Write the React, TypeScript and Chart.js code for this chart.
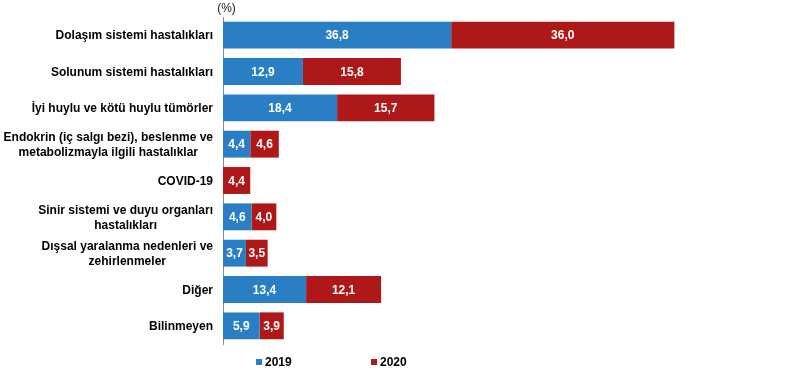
import React, { useEffect, useRef } from "react";
import { Chart, registerables } from "chart.js";

Chart.register(...registerables);

const categories: string[][] = [
  ["Dolaşım sistemi hastalıkları"],
  ["Solunum sistemi hastalıkları"],
  ["İyi huylu ve kötü huylu tümörler"],
  ["Endokrin (iç salgı bezi), beslenme ve", "metabolizmayla ilgili hastalıklar"],
  ["COVID-19"],
  ["Sinir sistemi ve duyu organları", "hastalıkları"],
  ["Dışsal yaralanma nedenleri ve", "zehirlenmeler"],
  ["Diğer"],
  ["Bilinmeyen"],
];

const values2019: (number | null)[] = [36.8, 12.9, 18.4, 4.4, null, 4.6, 3.7, 13.4, 5.9];
const values2020: (number | null)[] = [36.0, 15.8, 15.7, 4.6, 4.4, 4.0, 3.5, 12.1, 3.9];

const seriesLabels = ["2019", "2020"];
const unitLabel = "(%)";

const BLUE = "#2A7FC4";
const RED = "#AE1818";
const FONT = "Arial, 'Liberation Sans', sans-serif";

const fmt = (v: number) => v.toFixed(1).replace(".", ",");

const customPlugin = {
  id: "custom",
  afterDraw(chart: any) {
    const ctx = chart.ctx;
    const area = chart.chartArea;
    ctx.save();
    // value labels
    ctx.font = `bold 12px ${FONT}`;
    ctx.fillStyle = "#ffffff";
    ctx.textAlign = "center";
    ctx.textBaseline = "middle";
    chart.data.datasets.forEach((ds: any, di: number) => {
      const meta = chart.getDatasetMeta(di);
      meta.data.forEach((el: any, i: number) => {
        const v = ds.data[i];
        if (v == null) return;
        const cx = (el.x + el.base) / 2;
        ctx.fillText(fmt(v), cx, el.y + 1);
      });
    });
    // y category labels (centered lines, right-aligned block)
    const yScale = chart.scales.y;
    ctx.fillStyle = "#000000";
    ctx.font = `bold 12px ${FONT}`;
    categories.forEach((lines, i) => {
      const y = yScale.getPixelForTick(i);
      const maxW = Math.max(...lines.map((l) => ctx.measureText(l).width));
      const right = area.left - 10;
      const cx = right - maxW / 2;
      const lh = 15;
      const y0 = y + 1 - ((lines.length - 1) * lh) / 2;
      lines.forEach((l, k) => {
        ctx.fillText(l, cx, y0 + k * lh);
      });
    });
    // unit label
    ctx.font = `12px ${FONT}`;
    ctx.fillStyle = "#222222";
    ctx.textBaseline = "top";
    ctx.fillText(unitLabel, area.left + 3.5, 3);
    // legend
    ctx.textBaseline = "middle";
    ctx.font = `bold 12px ${FONT}`;
    ctx.textAlign = "left";
    const legendY = 362;
    const legendX = [256, 371];
    chart.data.datasets.forEach((ds: any, di: number) => {
      const x = legendX[di];
      ctx.fillStyle = ds.backgroundColor;
      ctx.fillRect(x, legendY - 3, 6, 6);
      ctx.fillStyle = "#000000";
      ctx.fillText(ds.label, x + 9, legendY + 1);
    });
    ctx.restore();
  },
};

export default function App() {
  const ref = useRef<HTMLCanvasElement | null>(null);
  useEffect(() => {
    if (!ref.current) return;
    const chart = new Chart(ref.current, {
      type: "bar",
      data: {
        labels: categories.map((c) => c.join(" ")),
        datasets: [
          { label: seriesLabels[0], data: values2019, backgroundColor: BLUE, borderWidth: 0 },
          { label: seriesLabels[1], data: values2020, backgroundColor: RED, borderWidth: 0 },
        ],
      },
      options: {
        indexAxis: "y",
        responsive: false,
        animation: false,
        layout: { padding: { top: 17, bottom: 34, right: 87, left: 0 } },
        plugins: {
          legend: { display: false },
          tooltip: { enabled: false },
        },
        datasets: {
          bar: { categoryPercentage: 1, barPercentage: 0.74 },
        },
        scales: {
          x: {
            stacked: true,
            min: 0,
            max: 80,
            display: false,
          },
          y: {
            stacked: true,
            grid: { display: false, drawTicks: false, tickLength: 0 },
            border: { display: true, color: "#8c8c8c", width: 1 },
            ticks: { display: false },
            afterFit: (axis: any) => {
              axis.width = 223;
            },
          },
        },
      },
      plugins: [customPlugin],
    });
    return () => chart.destroy();
  }, []);
  return (
    <div style={{ position: "absolute", left: 0, top: 0, width: 806, height: 378 }}>
      <canvas ref={ref} width={806} height={378} style={{ display: "block" }} />
    </div>
  );
}
